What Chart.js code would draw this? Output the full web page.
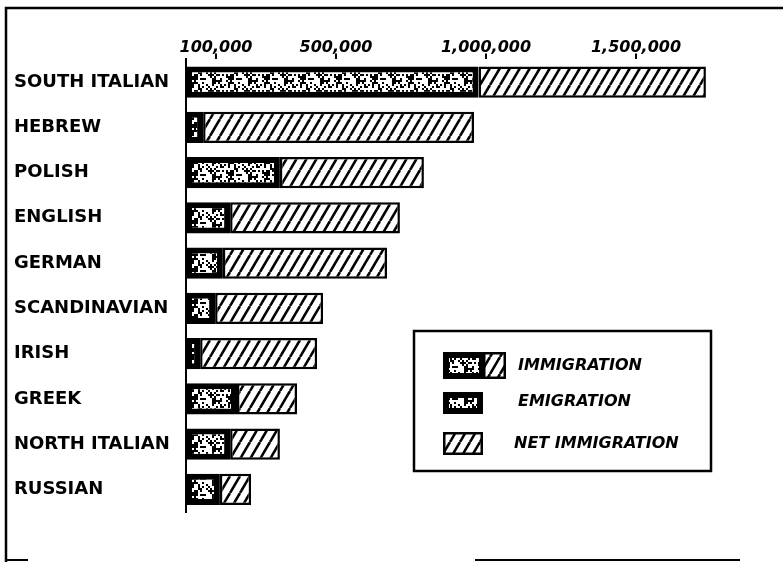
<!DOCTYPE html>
<html>
<head>
<meta charset="utf-8">
<script src="https://cdn.jsdelivr.net/npm/chart.js@4.4.0/dist/chart.umd.min.js"></script>
<style>
  html, body { margin: 0; padding: 0; background: #fff; }
  #wrap { position: relative; width: 783px; height: 562px; }
</style>
</head>
<body>
<div id="wrap"><canvas id="chart" width="783" height="562"></canvas></div>
<script>
// values
const groups = ['SOUTH ITALIAN', 'HEBREW', 'POLISH', 'ENGLISH', 'GERMAN',
  'SCANDINAVIAN', 'IRISH', 'GREEK', 'NORTH ITALIAN', 'RUSSIAN'];
const emigration = [975000, 57000, 313000, 147000, 123000, 97000, 47000, 170000, 147000, 113000];
const netImmigration = [758000, 903000, 480000, 566000, 547000, 360000, 390000, 200000, 166000, 104000];
const tickValues = [100000, 500000, 1000000, 1500000];
const tickLabels = ['100,000', '500,000', '1,000,000', '1,500,000'];
const legendLabels = ['IMMIGRATION', 'EMIGRATION', 'NET IMMIGRATION'];

const canvas = document.getElementById('chart');
const ctx = canvas.getContext('2d');

function hatchPattern() {
    const w = 10, h = 17;
    const c = document.createElement('canvas');
    c.width = w; c.height = h;
    const g = c.getContext('2d');
    g.fillStyle = '#fff';
    g.fillRect(0, 0, w, h);
    g.strokeStyle = '#000';
    g.lineWidth = 2.6;
    for (const x0 of [-w, 0, w]) {
        g.beginPath();
        g.moveTo(x0, h);
        g.lineTo(x0 + w, 0);
        g.stroke();
    }
    return ctx.createPattern(c, 'repeat');
}

// black fill with white specks (fixed texture, not data)
function speckPattern() {
    const w = 36, h = 16;
    const c = document.createElement('canvas');
    c.width = w; c.height = h;
    const g = c.getContext('2d');
    g.fillStyle = '#000';
    g.fillRect(0, 0, w, h);
    g.fillStyle = '#fff';
    for (let y = 0; y < h; y += 2) {
        for (let x = 0; x < w; x += 2) {
            const n = Math.abs(Math.sin(x * 12.9898 + y * 78.233) * 43758.5453) % 1;
            if (n > 0.42) g.fillRect(x, y, 2, 2);
        }
    }
    return ctx.createPattern(c, 'repeat');
}

const hatch = hatchPattern();
const speck = speckPattern();

const framePlugin = {
    id: 'frame',
    beforeDraw(chart) {
        const g = chart.ctx;
        g.save();
        g.strokeStyle = '#000';
        g.lineWidth = 2.5;
        g.beginPath();
        g.moveTo(6, 562);
        g.lineTo(6, 8);
        g.lineTo(783, 8);
        g.stroke();
        g.lineWidth = 2;
        g.beginPath();
        g.moveTo(6, 560); g.lineTo(28, 560);
        g.moveTo(475, 560); g.lineTo(740, 560);
        g.stroke();
        g.restore();
    }
};

const legendPlugin = {
    id: 'boxLegend',
    afterDraw(chart) {
        const g = chart.ctx;
        g.save();
        g.strokeStyle = '#000';
        g.lineWidth = 2.5;
        g.strokeRect(414, 331, 297, 140);

        function swatch(x, y, w, h, fill, bw) {
            g.fillStyle = '#000';
            g.fillRect(x, y, w, h);
            g.fillStyle = fill;
            g.fillRect(x + bw, y + bw, w - 2 * bw, h - 2 * bw);
        }
        swatch(443, 352, 42, 27, speck, 6);
        swatch(483, 352, 23, 27, hatch, 2.5);
        swatch(443, 392, 40, 22, speck, 6);
        swatch(443, 432, 40, 23, hatch, 2.5);

        g.fillStyle = '#000';
        g.font = 'italic bold 16px "DejaVu Sans"';
        g.textBaseline = 'middle';
        g.textAlign = 'left';
        g.fillText(legendLabels[0], 518, 366);
        g.fillText(legendLabels[1], 518, 402);
        g.fillText(legendLabels[2], 514, 444);
        g.restore();
    }
};

new Chart(ctx, {
    type: 'bar',
    data: {
        labels: groups,
        datasets: [
            {
                label: 'EMIGRATION',
                data: emigration,
                backgroundColor: speck,
                borderColor: '#000',
                borderWidth: 6,
                borderSkipped: false
            },
            {
                label: 'NET IMMIGRATION',
                data: netImmigration,
                backgroundColor: hatch,
                borderColor: '#000',
                borderWidth: 2.5,
                borderSkipped: false
            }
        ]
    },
    options: {
        indexAxis: 'y',
        responsive: false,
        animation: false,
        events: [],
        barPercentage: 0.69,
        categoryPercentage: 1,
        layout: { padding: { left: 14, right: 27, top: 0, bottom: 50 } },
        plugins: {
            legend: { display: false },
            tooltip: { enabled: false }
        },
        scales: {
            x: {
                position: 'top',
                stacked: true,
                min: 0,
                max: 1900000,
                afterFit(scale) { scale.height = 59.4; },
                afterBuildTicks(scale) {
                    scale.ticks = tickValues.map(v => ({ value: v }));
                },
                border: { display: false },
                grid: {
                    drawOnChartArea: false,
                    drawTicks: true,
                    tickLength: 6,
                    color: '#000',
                    lineWidth: 2
                },
                ticks: {
                    color: '#000',
                    padding: -2,
                    maxRotation: 0,
                    autoSkip: false,
                    font: { family: 'DejaVu Sans', size: 16, style: 'italic', weight: 'bold', lineHeight: 1 },
                    callback(value) {
                        const i = tickValues.indexOf(value);
                        return i >= 0 ? tickLabels[i] : '';
                    }
                }
            },
            y: {
                stacked: true,
                afterFit(scale) { scale.width = 172; },
                border: { display: true, color: '#000', width: 2 },
                grid: { display: false },
                ticks: {
                    color: '#000',
                    crossAlign: 'far',
                    autoSkip: false,
                    font: { family: 'DejaVu Sans', size: 18, weight: 'bold' }
                }
            }
        }
    },
    plugins: [framePlugin, legendPlugin]
});
</script>
</body>
</html>
